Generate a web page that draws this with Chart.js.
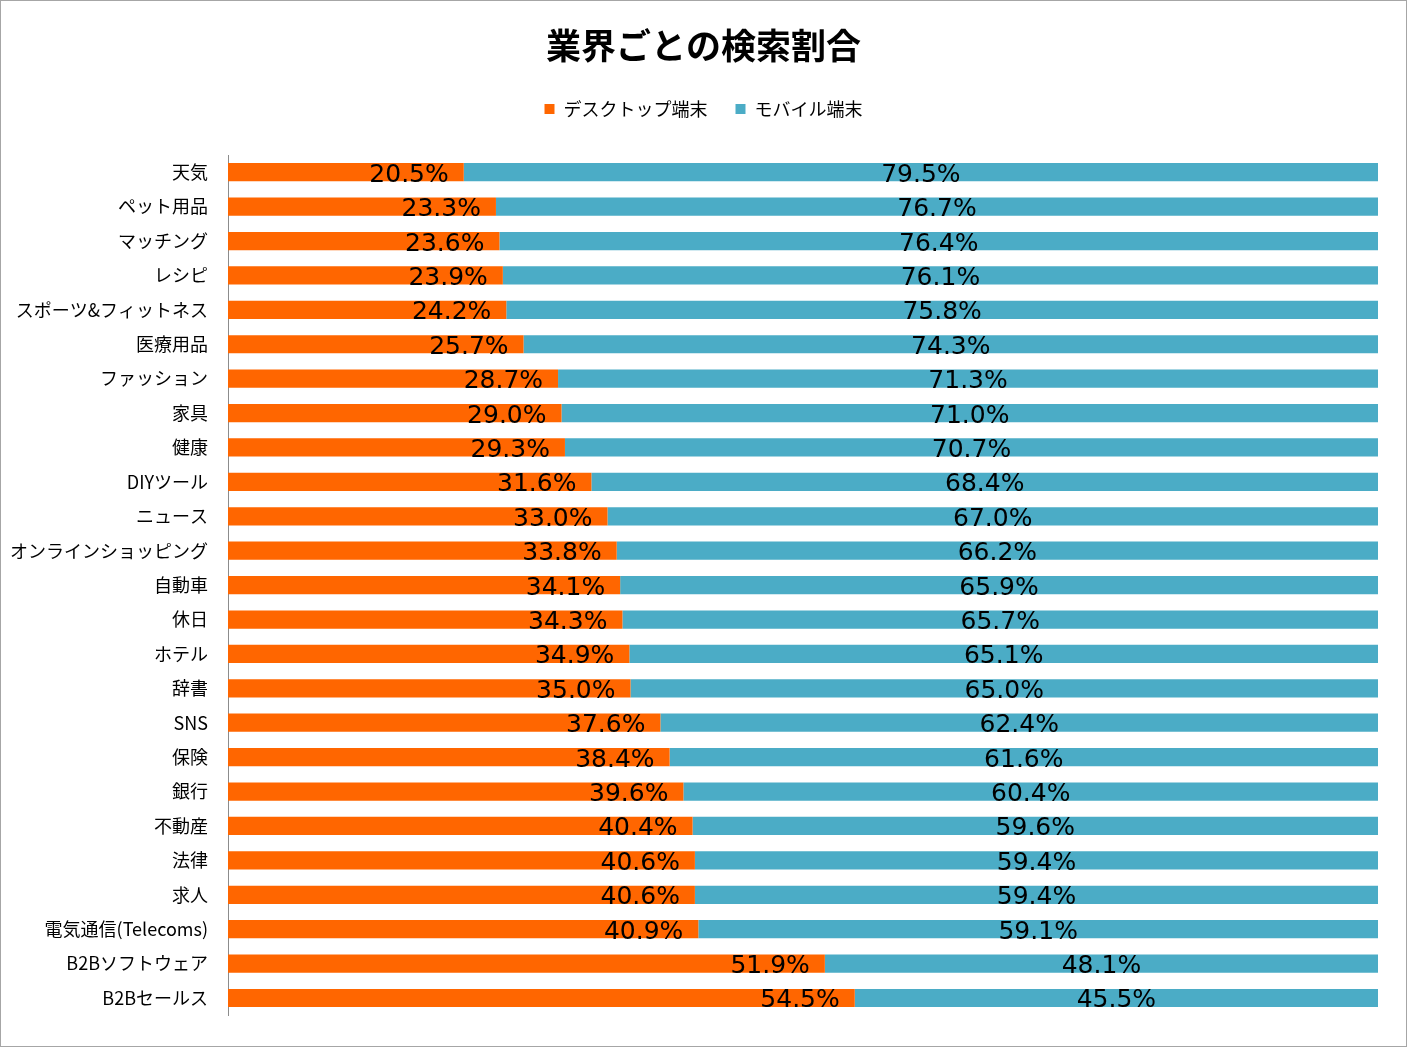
<!DOCTYPE html>
<html lang="ja">
<head>
    <meta charset="UTF-8">
    <title>業界ごとの検索割合</title>
    <script src="https://cdn.jsdelivr.net/npm/chart.js@4.4.1/dist/chart.umd.min.js"></script>
    <style>
        body {
            margin: 0;
            background-color: #ffffff;
        }
        #frame {
            width: 1405px;
            height: 1045px;
            border: 1px solid #a6a6a6;
        }
    </style>
</head>
<body>

<div id="frame">
    <canvas id="searchChart" width="1405" height="1045"></canvas>
</div>

<script>
    // Data
    var industries = ['天気', 'ペット用品', 'マッチング', 'レシピ', 'スポーツ&フィットネス', '医療用品', 'ファッション', '家具', '健康', 'DIYツール', 'ニュース', 'オンラインショッピング', '自動車', '休日', 'ホテル', '辞書', 'SNS', '保険', '銀行', '不動産', '法律', '求人', '電気通信(Telecoms)', 'B2Bソフトウェア', 'B2Bセールス'];
    var desktopShare = [20.5, 23.3, 23.6, 23.9, 24.2, 25.7, 28.7, 29.0, 29.3, 31.6, 33.0, 33.8, 34.1, 34.3, 34.9, 35.0, 37.6, 38.4, 39.6, 40.4, 40.6, 40.6, 40.9, 51.9, 54.5];
    var mobileShare = [79.5, 76.7, 76.4, 76.1, 75.8, 74.3, 71.3, 71.0, 70.7, 68.4, 67.0, 66.2, 65.9, 65.7, 65.1, 65.0, 62.4, 61.6, 60.4, 59.6, 59.4, 59.4, 59.1, 48.1, 45.5];
    var seriesNames = ['デスクトップ端末', 'モバイル端末'];

    var jpFont = "'Noto Sans CJK JP', 'Noto Sans', sans-serif";

    // Draws the percentage text on each bar segment
    var barLabels = {
        id: 'barLabels',
        afterDatasetsDraw: function(chart) {
            var ctx = chart.ctx;
            ctx.save();
            ctx.font = "25px 'DejaVu Sans', sans-serif";
            ctx.fillStyle = '#000000';
            ctx.textBaseline = 'middle';
            chart.data.datasets.forEach(function(dataset, i) {
                var meta = chart.getDatasetMeta(i);
                meta.data.forEach(function(bar, j) {
                    var text = dataset.data[j].toFixed(1) + '%';
                    if (i === 0) {
                        ctx.textAlign = 'right';
                        ctx.fillText(text, bar.x - 15, bar.y + 3);
                    } else {
                        ctx.textAlign = 'center';
                        ctx.fillText(text, (bar.x + bar.base) / 2, bar.y + 3);
                    }
                });
            });
            ctx.restore();
        }
    };

    // Extra space under the legend, and no clipping of the long category names
    var layoutTweaks = {
        id: 'layoutTweaks',
        beforeUpdate: function(chart) {
            if (chart.legend && !chart.legend._gapPatched) {
                var fit = chart.legend.fit;
                chart.legend.fit = function() {
                    fit.call(this);
                    this.height += 27;
                };
                chart.legend._gapPatched = true;
            }
        },
        afterLayout: function(chart) {
            chart.scales.y._computeLabelArea = function() { return null; };
        }
    };

    var ctx = document.getElementById('searchChart').getContext('2d');
    var searchChart = new Chart(ctx, {
        type: 'bar',
        data: {
            labels: industries,
            datasets: [{
                label: seriesNames[0],
                data: desktopShare,
                backgroundColor: '#FF6600',
                categoryPercentage: 1,
                barPercentage: 0.53
            }, {
                label: seriesNames[1],
                data: mobileShare,
                backgroundColor: '#4BACC6',
                categoryPercentage: 1,
                barPercentage: 0.53
            }]
        },
        options: {
            indexAxis: 'y',
            responsive: false,
            animation: false,
            layout: {
                padding: {left: 28, right: 28, top: 0, bottom: 22}
            },
            plugins: {
                title: {
                    display: true,
                    text: '業界ごとの検索割合',
                    color: '#000000',
                    font: {family: jpFont, size: 35, weight: 'bold'},
                    padding: {top: 24, bottom: 5}
                },
                legend: {
                    display: true,
                    position: 'top',
                    labels: {
                        color: '#000000',
                        font: {family: jpFont, size: 18},
                        boxWidth: 10,
                        boxHeight: 10,
                        padding: 28
                    }
                },
                tooltip: {enabled: false}
            },
            scales: {
                x: {
                    stacked: true,
                    min: 0,
                    max: 100,
                    display: false
                },
                y: {
                    stacked: true,
                    grid: {display: false, drawTicks: false},
                    border: {display: true, color: '#8c8c8c', width: 1},
                    ticks: {
                        color: '#000000',
                        font: {family: jpFont, size: 18},
                        padding: 20,
                        autoSkip: false
                    },
                    afterFit: function(scale) {
                        scale.width = 199;
                    }
                }
            }
        },
        plugins: [barLabels, layoutTweaks]
    });
</script>
</body>
</html>
